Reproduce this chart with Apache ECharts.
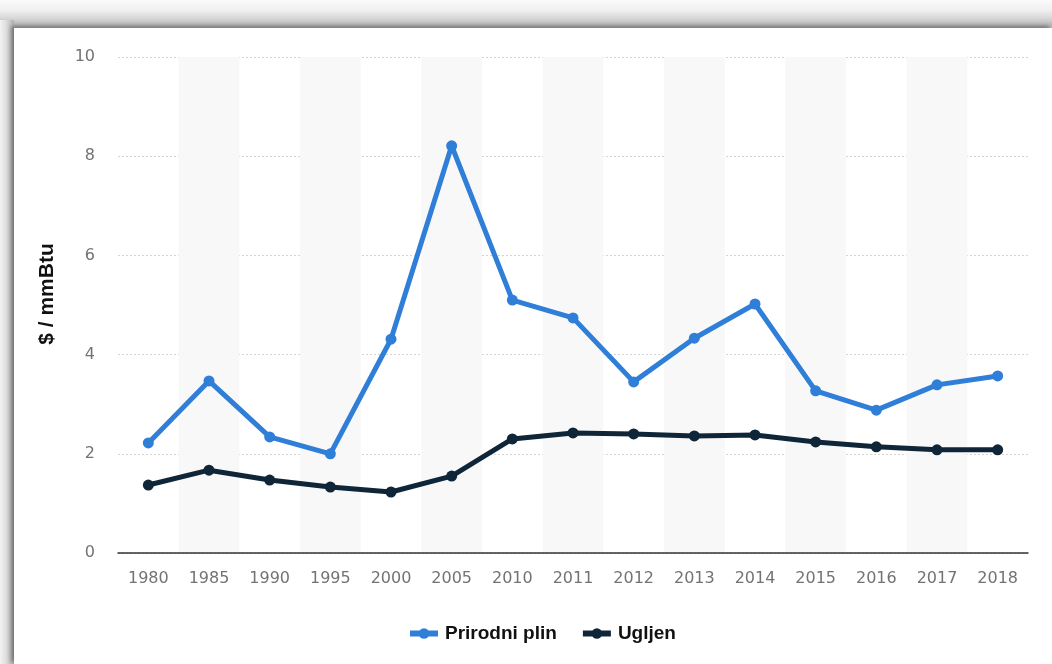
<!DOCTYPE html>
<html>
<head>
<meta charset="utf-8">
<script src="https://cdn.jsdelivr.net/npm/echarts@6/dist/echarts.min.js"></script>
<style>
html,body{margin:0;padding:0;background:#fafafa;overflow:hidden;}
#frame{position:absolute;left:0;top:0;width:1052px;height:664px;
  background:linear-gradient(to bottom,#fafafa 0px,#f0f0f0 10px,#d8d8d8 18px,#b4b4b4 26px,#b4b4b4 28px);}
#inner{position:absolute;left:14px;top:28px;width:1038px;height:636px;background:#fff;
  box-shadow:-3px -2px 4px rgba(0,0,0,0.35);}
#leftbar{position:absolute;left:0;top:20px;width:14px;height:644px;
  background:linear-gradient(to right,#f2f2f2 0px,#dedede 6px,#bcbcbc 12px,#b0b0b0 14px);}
#chart{position:absolute;left:0;top:0;width:1052px;height:664px;}
</style>
</head>
<body>
<div id="frame"></div>
<div id="leftbar"></div>
<div id="inner"></div>
<div id="chart"></div>
<script>
const categories = ['1980','1985','1990','1995','2000','2005','2010','2011','2012','2013','2014','2015','2016','2017','2018'];
const gasValues = [2.22,3.47,2.34,2.0,4.31,8.21,5.10,4.74,3.45,4.33,5.02,3.27,2.88,3.39,3.57];
const coalValues = [1.37,1.67,1.47,1.33,1.23,1.55,2.30,2.42,2.40,2.36,2.38,2.24,2.14,2.08,2.08];
const seriesNames = ['Prirodni plin','Ugljen'];
const yTicks = [0,2,4,6,8,10];
const yTitle = '$ / mmBtu';

const chart = echarts.init(document.getElementById('chart'), null, {renderer:'canvas'});
chart.setOption({
  backgroundColor:'transparent',
  animation:false,
  grid:{left:118,right:24,top:57,bottom:111,containLabel:false},
  graphic:[{
    type:'text',
    x:47, y:294,
    rotation:Math.PI/2,
    style:{text:yTitle,align:'center',verticalAlign:'middle',
      font:'bold 21px "Liberation Sans", Arial, sans-serif',fill:'#111'}
  }],
  legend:{
    data:seriesNames,
    bottom:16,
    left:402,
    itemWidth:28,
    itemHeight:13,
    itemGap:23,
    lineStyle:{width:6},
    textStyle:{fontFamily:'Liberation Sans, Arial, sans-serif',fontWeight:'bold',fontSize:19,color:'#111',padding:[0,0,0,2]}
  },
  xAxis:{
    type:'category',
    data:categories,
    boundaryGap:true,
    axisLine:{show:true,lineStyle:{color:'#333',width:1.5}},
    axisTick:{show:false},
    axisLabel:{color:'#737373',fontSize:16,margin:18,fontFamily:'DejaVu Sans, sans-serif'},
    splitLine:{show:false},
    splitArea:{show:true,areaStyle:{color:['rgba(255,255,255,0)','#f8f8f8']}}
  },
  yAxis:{
    type:'value',
    min:yTicks[0],
    max:yTicks[yTicks.length-1],
    interval:2,
    axisLine:{show:false},
    axisTick:{show:false},
    axisLabel:{color:'#737373',fontSize:16,margin:23,fontFamily:'DejaVu Sans, sans-serif'},
    splitLine:{show:true,lineStyle:{color:'#d4d4d4',type:[2,2],width:1}}
  },
  series:[
    {
      name:seriesNames[0],
      type:'line',
      data:gasValues,
      symbol:'circle',
      symbolSize:11,
      lineStyle:{width:5,color:'#2f7ed8'},
      itemStyle:{color:'#2f7ed8'},
      z:3
    },
    {
      name:seriesNames[1],
      type:'line',
      data:coalValues,
      symbol:'circle',
      symbolSize:11,
      lineStyle:{width:5,color:'#0f2538'},
      itemStyle:{color:'#0f2538'},
      z:4
    }
  ]
});
</script>
</body>
</html>
